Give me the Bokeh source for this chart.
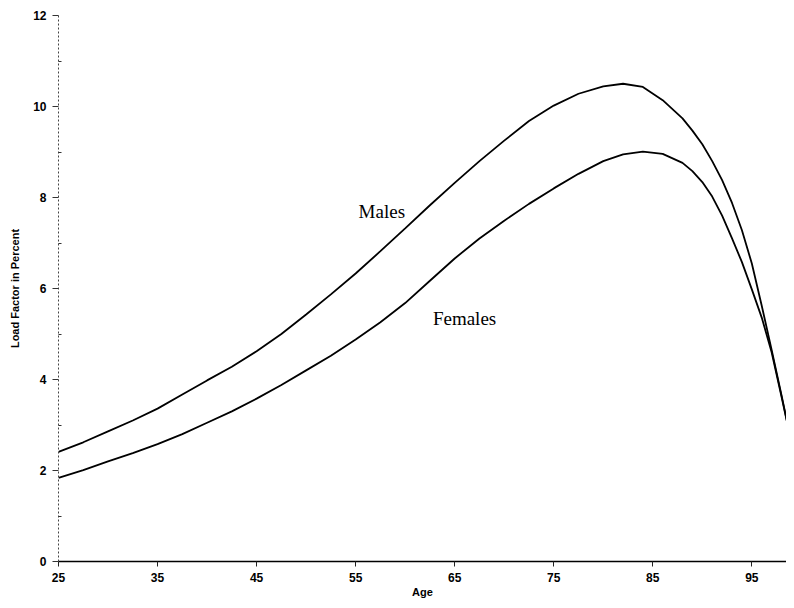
from bokeh.plotting import figure
from bokeh.models import FixedTicker, Range1d, Label
from bokeh.embed import file_html
from bokeh.resources import INLINE

# ---- data ----
male_age = [25, 27.5, 30, 32.5, 35, 37.5, 40, 42.5, 45, 47.5, 50, 52.5, 55, 57.5, 60, 62.5, 65, 67.5,
            70, 72.5, 75, 77.5, 80, 82, 84, 86, 88, 89, 90, 91, 92, 93, 94, 95, 96, 97, 98, 99]
male_val = [2.41, 2.62, 2.86, 3.1, 3.36, 3.67, 3.98, 4.28, 4.62, 5.0, 5.43, 5.87, 6.33, 6.82, 7.32, 7.83, 8.32, 8.8,
            9.25, 9.68, 10.02, 10.28, 10.44, 10.5, 10.43, 10.14, 9.74, 9.47, 9.17, 8.8, 8.38, 7.88, 7.28, 6.55, 5.62, 4.65, 3.65, 2.62]

female_age = [25, 27.5, 30, 32.5, 35, 37.5, 40, 42.5, 45, 47.5, 50, 52.5, 55, 57.5, 60, 62.5, 65, 67.5,
              70, 72.5, 75, 77.5, 80, 82, 84, 86, 88, 89, 90, 91, 92, 93, 94, 95, 96, 97, 98, 99]
female_val = [1.84, 2.01, 2.2, 2.38, 2.58, 2.8, 3.05, 3.3, 3.58, 3.88, 4.2, 4.52, 4.88, 5.26, 5.68, 6.17, 6.66, 7.1,
              7.49, 7.86, 8.2, 8.52, 8.8, 8.95, 9.01, 8.96, 8.76, 8.58, 8.34, 8.02, 7.6, 7.1, 6.58, 5.98, 5.36, 4.6, 3.62, 2.62]

x_ticks = [25, 35, 45, 55, 65, 75, 85, 95]
y_ticks = [0, 2, 4, 6, 8, 10, 12]
y_minor = [1, 3, 5, 7, 9, 11]

p = figure(width=786, height=600, output_backend="svg", toolbar_location=None,
           x_range=Range1d(25, 98.5), y_range=Range1d(0, 12),
           min_border_left=58, min_border_right=0, min_border_top=15, min_border_bottom=37)
p.outline_line_color = None
p.grid.visible = False
p.background_fill_color = "white"
p.border_fill_color = "white"

p.line(male_age, male_val, line_color="black", line_width=1.8)
p.line(female_age, female_val, line_color="black", line_width=1.8)

FONT = "Liberation Sans"

xa = p.xaxis[0]
xa.ticker = FixedTicker(ticks=x_ticks)
xa.axis_label = "Age"
xa.axis_line_color = "black"
xa.axis_line_width = 1.5
xa.major_tick_out = 5
xa.major_tick_in = 0
xa.minor_tick_out = 0
xa.minor_tick_in = 0
xa.major_tick_line_color = "#222222"
xa.major_label_standoff = 6
xa.axis_label_standoff = 1
xa.major_label_text_font = FONT
xa.major_label_text_font_style = "bold"
xa.major_label_text_font_size = "12px"
xa.major_label_text_color = "black"
xa.axis_label_text_font = FONT
xa.axis_label_text_font_style = "bold"
xa.axis_label_text_font_size = "11px"
xa.axis_label_text_color = "black"

ya = p.yaxis[0]
ya.ticker = FixedTicker(ticks=y_ticks, minor_ticks=y_minor)
ya.axis_label = "Load Factor in Percent"
ya.axis_line_color = "#444444"
ya.axis_line_dash = "2 2"
ya.axis_line_width = 1
ya.major_tick_out = 6
ya.major_tick_in = 0
ya.minor_tick_out = 0
ya.minor_tick_in = 3
ya.major_tick_line_color = "#333333"
ya.minor_tick_line_color = "#333333"
ya.major_label_standoff = 6
ya.axis_label_standoff = 9
ya.major_label_text_font = FONT
ya.major_label_text_font_style = "bold"
ya.major_label_text_font_size = "12px"
ya.major_label_text_color = "black"
ya.axis_label_text_font = FONT
ya.axis_label_text_font_style = "bold"
ya.axis_label_text_font_size = "11px"
ya.axis_label_text_color = "black"

p.add_layout(Label(x=55.3, y=7.7, text="Males", text_font="Liberation Serif",
                   text_font_size="19px", text_baseline="alphabetic", text_color="black"))
p.add_layout(Label(x=62.8, y=5.33, text="Females", text_font="Liberation Serif",
                   text_font_size="19px", text_baseline="alphabetic", text_color="black"))

open("out.html", "w").write(file_html(p, INLINE))
